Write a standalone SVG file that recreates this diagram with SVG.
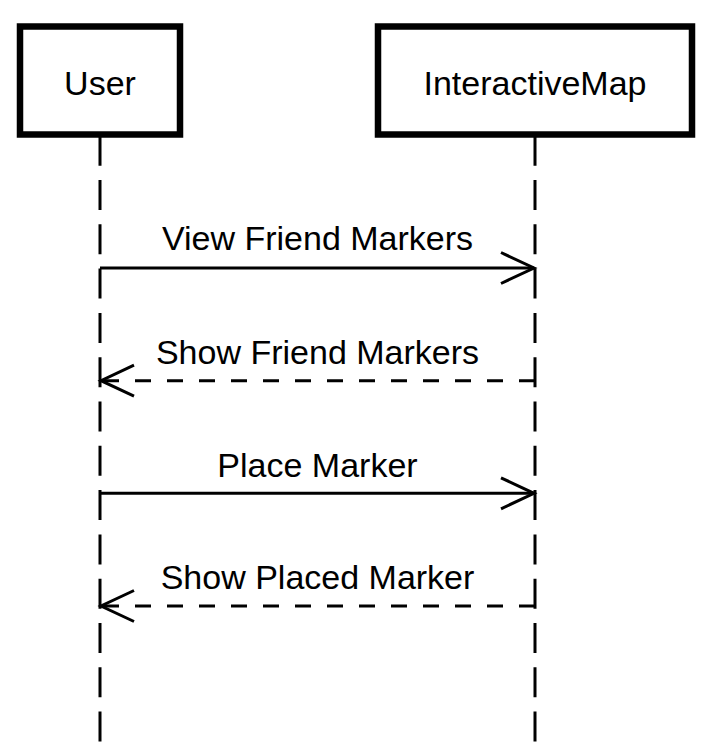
<svg xmlns="http://www.w3.org/2000/svg" width="711" height="746" viewBox="0 0 711 746">
  <style>
    .box { fill: #ffffff; stroke: #000000; stroke-width: 6.5; }
    .label { font-family: "Liberation Sans", Arial, sans-serif; font-size: 34px; fill: #000000; text-anchor: middle; }
    .lifeline { stroke: #000000; stroke-width: 3; stroke-dasharray: 30 14.3; fill: none; }
    .msg { stroke: #000000; stroke-width: 3; fill: none; }
    .reply { stroke-dasharray: 16 16; }
  </style>
  <defs>
    <marker id="open" markerUnits="userSpaceOnUse" viewBox="-38 -20 42 40" markerWidth="42" markerHeight="40" refX="0" refY="0" orient="auto" overflow="visible">
      <path d="M -33 -15.5 L 0 0 L -33 15.5" fill="none" stroke="#000000" stroke-width="3" stroke-dasharray="none"/>
    </marker>
  </defs>
  <rect width="711" height="746" fill="#ffffff"/>
  <g id="lifelines">
    <line class="lifeline" x1="100" y1="135.7" x2="100" y2="746"/>
    <line class="lifeline" x1="535" y1="135.7" x2="535" y2="746"/>
  </g>
  <g id="node-user">
    <rect class="box" x="20" y="26.5" width="160" height="108"/>
    <text class="label" x="100" y="95">User</text>
  </g>
  <g id="node-interactivemap">
    <rect class="box" x="378" y="26.5" width="314" height="108"/>
    <text class="label" x="535" y="95">InteractiveMap</text>
  </g>
  <g id="connectors">
    <line class="msg" x1="100" y1="268" x2="534" y2="268" marker-end="url(#open)"/>
    <text class="label" x="317.5" y="250">View Friend Markers</text>
    <line class="msg reply" x1="535" y1="380.7" x2="101" y2="380.7" marker-end="url(#open)"/>
    <text class="label" x="317.5" y="364">Show Friend Markers</text>
    <line class="msg" x1="100" y1="493.3" x2="534" y2="493.3" marker-end="url(#open)"/>
    <text class="label" x="317.5" y="477">Place Marker</text>
    <line class="msg reply" x1="535" y1="606" x2="101" y2="606" marker-end="url(#open)"/>
    <text class="label" x="317.5" y="589">Show Placed Marker</text>
  </g>
</svg>
